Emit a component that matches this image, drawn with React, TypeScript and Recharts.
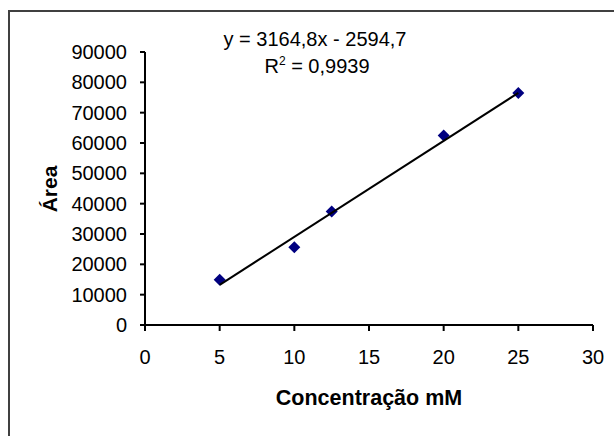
import { ScatterChart, Scatter, XAxis, YAxis, Customized } from 'recharts';

// measured points (concentration in mM, peak area)
const concentrations = [5, 10, 12.5, 20, 25];
const areas = [14900, 25600, 37400, 62500, 76500];

const xTicks = [0, 5, 10, 15, 20, 25, 30];
const yTicks = [0, 10000, 20000, 30000, 40000, 50000, 60000, 70000, 80000, 90000];

// linear trendline as printed on the chart
const slope = 3164.8;
const intercept = -2594.7;
const equationLabel = 'y = 3164,8x - 2594,7';
const r2Label = '0,9939';

const xTitle = 'Concentração mM';
const yTitle = 'Área';

const FONT = '"Liberation Sans", Arial, sans-serif';

const points = concentrations.map((x, i) => ({ x, y: areas[i] }));
const xMin = Math.min(...concentrations);
const xMax = Math.max(...concentrations);
const trendPoints = [xMin, xMax].map((x) => ({ x, y: slope * x + intercept }));

const Diamond = (props: any) => {
  const { cx, cy } = props;
  const r = 6;
  return (
    <polygon
      points={`${cx},${cy - r} ${cx + r},${cy} ${cx},${cy + r} ${cx - r},${cy}`}
      fill="#000080"
    />
  );
};

const Annotations = () => (
  <g fontFamily={FONT} fill="#000">
    <text x={315} y={46} fontSize={20} textAnchor="middle">
      {equationLabel}
    </text>
    <text x={317} y={73} fontSize={20} textAnchor="middle">
      <tspan>R</tspan>
      <tspan fontSize={12} dy={-8}>2</tspan>
      <tspan dy={8}>{` = ${r2Label}`}</tspan>
    </text>
    <text
      x={57}
      y={189}
      fontSize={21}
      fontWeight="bold"
      textAnchor="middle"
      transform="rotate(-90 57 189)"
    >
      {yTitle}
    </text>
    <text x={369} y={405} fontSize={21.5} fontWeight="bold" textAnchor="middle">
      {xTitle}
    </text>
  </g>
);

export default function App() {
  const tickStyle = { fill: '#000', fontSize: 20, fontFamily: FONT };
  return (
    <div style={{ position: 'relative', width: 614, height: 436, overflow: 'hidden', background: '#fff' }}>
      <style>{'body{margin:0}'}</style>
      <div
        style={{
          position: 'absolute',
          left: 8,
          top: 10,
          width: 700,
          height: 500,
          borderTop: '2px solid #404040',
          borderLeft: '2px solid #404040',
        }}
      />
      <div style={{ position: 'absolute', left: 0, top: 0 }}>
        <ScatterChart width={614} height={436} margin={{ top: 52, right: 21, bottom: 51, left: 45 }}>
          <XAxis
            type="number"
            dataKey="x"
            domain={[0, 30]}
            ticks={xTicks}
            interval={0}
            height={60}
            tickSize={6}
            tickMargin={19}
            tick={tickStyle}
            axisLine={{ stroke: '#000', strokeWidth: 2 }}
            tickLine={{ stroke: '#000', strokeWidth: 2 }}
          />
          <YAxis
            type="number"
            dataKey="y"
            domain={[0, 90000]}
            ticks={yTicks}
            interval={0}
            width={100}
            tickSize={5}
            tickMargin={13}
            tick={tickStyle}
            axisLine={{ stroke: '#000', strokeWidth: 2 }}
            tickLine={{ stroke: '#000', strokeWidth: 2 }}
          />
          <Scatter data={points} shape={<Diamond />} isAnimationActive={false} />
          <Scatter
            data={trendPoints}
            line={{ stroke: '#000', strokeWidth: 2 }}
            shape={() => <g />}
            isAnimationActive={false}
          />
          <Customized component={Annotations} />
        </ScatterChart>
      </div>
    </div>
  );
}
